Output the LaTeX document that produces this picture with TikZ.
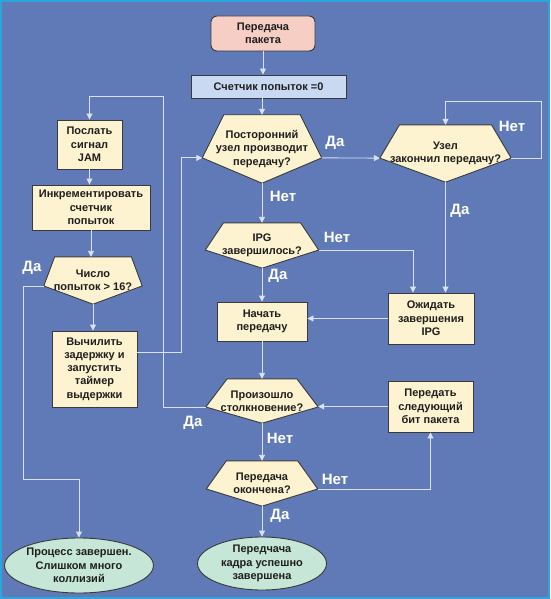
\documentclass[tikz,border=0pt]{standalone}
\usepackage{fontspec}
\setmainfont{Liberation Sans}
\usepackage{xcolor}
\usepackage{tikz}
\usetikzlibrary{shapes.geometric,arrows.meta,calc,backgrounds}

\definecolor{bgblue}{RGB}{95,122,182}
\definecolor{frame}{RGB}{42,165,222}
\definecolor{cream}{RGB}{253,243,208}
\definecolor{peach}{RGB}{246,206,196}
\definecolor{sky}{RGB}{201,217,241}
\definecolor{mint}{RGB}{198,230,215}
\definecolor{edgegray}{RGB}{58,58,58}
\definecolor{wire}{RGB}{217,225,244}
\definecolor{ink}{RGB}{30,30,30}

\tikzset{
	txt/.style={text=ink, font=\bfseries\fontsize{11}{13.3}\selectfont, align=center, inner sep=0pt},
	box/.style={txt, draw=edgegray, line width=0.9pt, rectangle, fill=cream},
	dec/.style={txt, rectangle},
	decshape/.style={draw=edgegray, line width=0.9pt, fill=cream, line join=miter},
	term/.style={txt, draw=edgegray, line width=0.9pt, ellipse, fill=mint},
	arr/.style={draw=wire, line width=0.9pt, -{Triangle[length=6pt,width=6pt]}},
	lbl/.style={text=white, font=\bfseries\fontsize{15}{15}\selectfont, inner sep=0pt}
}

\begin{document}
\begin{tikzpicture}[x=1pt, y=-1pt]
	\useasboundingbox (0,0) rectangle (550,599);

	% centre column
	\node[box, fill=peach, rounded corners=6pt, minimum width=104pt, minimum height=35pt] (start) at (263,33.5) {Передача\\пакета};
	\node[box, fill=sky, minimum width=155pt, minimum height=23pt] (count) at (268.5,86.5) {Счетчик попыток =0};
	\node[dec, minimum width=119pt, minimum height=68pt] (qbusy) at (262,149) {Посторонний\\узел производит\\передачу?};
	\node[dec, minimum width=131pt, minimum height=57pt] (qdone) at (445.5,153.5) {Узел\\закончил передачу?};
	\node[dec, minimum width=113pt, minimum height=45pt] (qipg) at (262,245.5) {IPG\\завершилось?};
	\node[box, minimum width=86pt, minimum height=51pt] (wait) at (431,318.5) {Ожидать\\завершения\\IPG};
	\node[box, minimum width=90pt, minimum height=39pt] (begin) at (262,321.5) {Начать\\передачу};
	\node[dec, minimum width=112pt, minimum height=44pt] (qcoll) at (262,401) {Произошло\\столкновение?};
	\node[box, minimum width=85pt, minimum height=51pt] (next) at (430.5,406.5) {Передать\\следующий\\бит пакета};
	\node[dec, minimum width=111pt, minimum height=45pt] (qend) at (262,483.5) {Передача\\окончена?};
	\node[term, minimum width=129pt, minimum height=53pt] (ok) at (262,563.5) {Передчача\\кадра успешно\\завершена};

	% left column
	\node[box, minimum width=65pt, minimum height=49pt] (jam) at (89.5,144.5) {Послать\\сигнал\\JAM};
	\node[box, minimum width=118pt, minimum height=45pt] (inc) at (91,207.5) {Инкрементировать\\счетчик\\попыток};
	\node[dec, minimum width=98pt, minimum height=47pt] (qmax) at (93,280.5) {Число\\попыток > 16?};
	\node[box, minimum width=85pt, minimum height=76pt] (delay) at (94.5,369) {Вычилить\\задержку и\\запустить\\таймер\\выдержки};
	\node[term, minimum width=132pt, minimum height=55pt] (fail) at (79,565.5) {Процесс завершен.\\Слишком много\\коллизий};

	% backdrop and pentagons
	\begin{scope}[on background layer]
		\fill[frame] (0,0) rectangle (550,599);
		\fill[bgblue] (2,2) rectangle (548,597);
		\foreach \n/\a/\b in {qbusy/0.18/0.26, qdone/0.15/0.16, qipg/0.16/0.2, qcoll/0.19/0.27, qend/0.18/0.24, qmax/0.11/0.23}{
			\coordinate (\n-w) at ($(\n.west)!\b!(\n.south west)$);
			\coordinate (\n-e) at ($(\n.east)!\b!(\n.south east)$);
			\draw[decshape] ($(\n.north west)!\a!(\n.north east)$) -- ($(\n.north east)!\a!(\n.north west)$) -- (\n-e) -- (\n.south) -- (\n-w) -- cycle;
		}
	\end{scope}

	% connectors
	\draw[arr] (start.south) -- (start.south |- count.north);
	\draw[arr] (qbusy.north |- count.south) -- (qbusy.north);
	\draw[arr] (qbusy-e) -- (qdone-w);
	\draw[arr] (qdone-e) -- ++(30,0) |- ($(qdone.north)+(0,-23)$) -- (qdone.north);
	\draw[arr] (qbusy.south) -- (qipg.north);
	\draw[arr] (qipg-e) -| ($(wait.north)+(-18,0)$);
	\draw[arr] (qdone.south) -- (qdone.south |- wait.north);
	\draw[arr] (qipg.south) -- (begin.north);
	\draw[arr] (wait.west) -- (wait.west -| begin.east);
	\draw[arr] (begin.south) -- (qcoll.north);
	\draw[arr] (next.west) -- (next.west -| qcoll-e);
	\draw[arr] (qcoll.south) -- (qend.north);
	\draw[arr] (qend-e) -| (next.south);
	\draw[arr] (qend.south) -- (ok.north);
	\coordinate (backup) at (163,96);
	\draw[arr] (qcoll-w) -| (backup) -| (jam.north);
	\draw[arr] (jam.south) -- (jam.south |- inc.north);
	\draw[arr] (inc.south) -- (inc.south |- qmax.north);
	\draw[arr] (qmax.south) -- (qmax.south |- delay.north);
	\coordinate (giveup) at (23,479);
	\draw[arr] (qmax-w) -| (giveup) -| (fail.north);
	\draw[arr] ($(delay.east)+(0,-17)$) -| ($(qbusy-w)+(-21,0)$) -- (qbusy-w);

	% branch labels
	\node[lbl] (busy-yes) at (335,143) {Да};
	\node[lbl] (done-no) at (512,126) {Нет};
	\node[lbl] (busy-no) at (283,196) {Нет};
	\node[lbl] (ipg-no) at (337,237) {Нет};
	\node[lbl] (ipg-yes) at (278,276) {Да};
	\node[lbl] (done-yes) at (460,211) {Да};
	\node[lbl] (coll-yes) at (193,423) {Да};
	\node[lbl] (coll-no) at (280,438) {Нет};
	\node[lbl] (end-no) at (335,479) {Нет};
	\node[lbl] (end-yes) at (280,516) {Да};
	\node[lbl] (max-yes) at (32,268) {Да};
\end{tikzpicture}
\end{document}
